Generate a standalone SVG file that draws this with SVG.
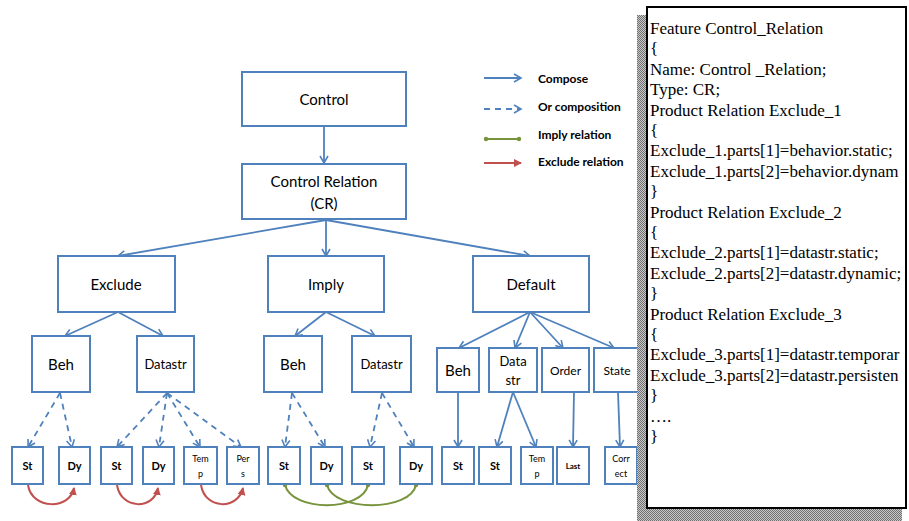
<svg xmlns="http://www.w3.org/2000/svg" width="909" height="521" viewBox="0 0 909 521">
<style>
.box{fill:#fff;stroke:#4f81bd;stroke-width:2}
.t{font-family:Lato,"Liberation Sans",sans-serif;fill:#000;text-anchor:middle}
.c{fill:none;stroke:#4f81bd;stroke-width:1.8;marker-end:url(#ab)}
.d{fill:none;stroke:#4f81bd;stroke-width:1.8;stroke-dasharray:6,5;marker-end:url(#ab)}
.r{fill:none;stroke:#c0504d;stroke-width:2;marker-end:url(#ar)}
.g{fill:none;stroke:#77933c;stroke-width:2;marker-start:url(#gd);marker-end:url(#gd)}
.lg{font-family:Lato,"Liberation Sans",sans-serif;font-size:12px;font-weight:bold;fill:#000}
.p{font-family:"Liberation Serif","Times New Roman",serif;font-size:17px;fill:#000}
</style>
<defs>
<marker id="ab" markerWidth="10" markerHeight="10" refX="8" refY="5" orient="auto" markerUnits="userSpaceOnUse"><path d="M1,1 L8,5 L1,9" fill="none" stroke="#4f81bd" stroke-width="1.6"/></marker>
<marker id="ar" markerWidth="10" markerHeight="10" refX="7" refY="5" orient="auto" markerUnits="userSpaceOnUse"><path d="M0,1 L8,5 L0,9 z" fill="#c0504d"/></marker>
<marker id="gd" markerWidth="6" markerHeight="6" refX="3" refY="3" markerUnits="userSpaceOnUse"><circle cx="3" cy="3" r="2.2" fill="#77933c"/></marker>
<pattern id="sh" width="2" height="2" patternUnits="userSpaceOnUse"><rect width="2" height="2" fill="#c8c8c8"/><rect width="1" height="1" fill="#707070"/><rect x="1" y="1" width="1" height="1" fill="#707070"/></pattern>
</defs>

<g id="connectors">
<path class="c" d="M324,126 L324,163"/>
<path class="c" d="M326,220 L118,256"/>
<path class="c" d="M326,220 L326,256"/>
<path class="c" d="M326,220 L530,256"/>
<path class="c" d="M118,312 L65,336"/>
<path class="c" d="M118,312 L163,336"/>
<path class="c" d="M326,312 L295,336"/>
<path class="c" d="M326,312 L375,336"/>
<path class="c" d="M530,312 L459,348"/>
<path class="c" d="M530,312 L515,348"/>
<path class="c" d="M530,312 L563,348"/>
<path class="c" d="M530,312 L614,348"/>
<path class="c" d="M458,392 L458,447"/>
<path class="c" d="M513,392 L497,447"/>
<path class="c" d="M513,392 L536,447"/>
<path class="c" d="M574,392 L573,447"/>
<path class="c" d="M618,392 L620,447"/>
<path class="d" d="M60,393 L28,447"/>
<path class="d" d="M60,393 L72,447"/>
<path class="d" d="M167,393 L117,447"/>
<path class="d" d="M167,393 L159,447"/>
<path class="d" d="M167,393 L200,447"/>
<path class="d" d="M167,393 L241,447"/>
<path class="d" d="M292,393 L285,447"/>
<path class="d" d="M292,393 L325,447"/>
<path class="d" d="M382,393 L370,447"/>
<path class="d" d="M382,393 L414,447"/>
<path class="r" d="M28,485 C32,510 70,510 74,488"/>
<path class="r" d="M117,485 C121,510 154,510 158,488"/>
<path class="r" d="M201,485 C205,510 238,510 243,488"/>
<path class="g" d="M285,485 C292,512 362,512 368,485"/>
<path class="g" d="M327,485 C334,512 410,512 416,485"/>
</g>

<g id="legend">
<path class="c" d="M484,78 L521,78"/>
<text class="lg" x="538" y="83">Compose</text>
<path class="d" d="M484,109 L521,109"/>
<text class="lg" x="538" y="111">Or composition</text>
<path class="g" d="M486,139 L519,139"/>
<text class="lg" x="538" y="139">Imply relation</text>
<path class="r" d="M484,163 L521,163"/>
<text class="lg" x="538" y="166">Exclude relation</text>
</g>

<g id="control"><rect class="box" x="242" y="72" width="164" height="54"/><text class="t" x="324" y="105" font-size="15">Control</text></g>
<g id="cr"><rect class="box" x="242" y="164" width="164" height="55"/><text class="t" x="324" y="187" font-size="15">Control Relation</text><text class="t" x="324" y="209" font-size="15">(CR)</text></g>
<g id="exclude"><rect class="box" x="58" y="256" width="117" height="56"/><text class="t" x="116" y="290" font-size="15">Exclude</text></g>
<g id="imply"><rect class="box" x="268" y="256" width="116" height="56"/><text class="t" x="326" y="290" font-size="15">Imply</text></g>
<g id="default"><rect class="box" x="473" y="256" width="116" height="56"/><text class="t" x="531" y="290" font-size="15">Default</text></g>

<g id="ex-beh"><rect class="box" x="32" y="336" width="58" height="56"/><text class="t" x="61" y="370" font-size="15">Beh</text></g>
<g id="ex-datastr"><rect class="box" x="137" y="336" width="57" height="56"/><text class="t" x="165.5" y="369" font-size="13">Datastr</text></g>
<g id="im-beh"><rect class="box" x="264" y="336" width="58" height="56"/><text class="t" x="293" y="370" font-size="15">Beh</text></g>
<g id="im-datastr"><rect class="box" x="352" y="336" width="59" height="56"/><text class="t" x="381.5" y="369" font-size="13">Datastr</text></g>
<g id="de-beh"><rect class="box" x="437" y="348" width="42" height="44"/><text class="t" x="458" y="376" font-size="15">Beh</text></g>
<g id="de-datastr"><rect class="box" x="489" y="348" width="48" height="44"/><text class="t" x="513" y="366" font-size="13">Data</text><text class="t" x="513" y="385" font-size="13">str</text></g>
<g id="de-order"><rect class="box" x="542" y="348" width="47" height="44"/><text class="t" x="565.5" y="375" font-size="12">Order</text></g>
<g id="de-state"><rect class="box" x="594" y="348" width="46" height="44"/><text class="t" x="617" y="375" font-size="12">State</text></g>

<g id="l-st1"><rect class="box" x="12" y="447" width="31" height="37"/><text class="t" x="27.5" y="470" font-size="11" font-weight="bold">St</text></g>
<g id="l-dy1"><rect class="box" x="59" y="447" width="31" height="37"/><text class="t" x="74.5" y="470" font-size="11" font-weight="bold">Dy</text></g>
<g id="l-st2"><rect class="box" x="101" y="447" width="31" height="37"/><text class="t" x="116.5" y="470" font-size="11" font-weight="bold">St</text></g>
<g id="l-dy2"><rect class="box" x="143" y="447" width="31" height="37"/><text class="t" x="158.5" y="470" font-size="11" font-weight="bold">Dy</text></g>
<g id="l-temp1"><rect class="box" x="184" y="447" width="33" height="37"/><text class="t" x="200.5" y="462" font-size="9">Tem</text><text class="t" x="200.5" y="477" font-size="9">p</text></g>
<g id="l-pers"><rect class="box" x="227" y="447" width="32" height="37"/><text class="t" x="243" y="462" font-size="9">Per</text><text class="t" x="243" y="477" font-size="9">s</text></g>
<g id="l-st3"><rect class="box" x="268" y="447" width="32" height="37"/><text class="t" x="284" y="470" font-size="11" font-weight="bold">St</text></g>
<g id="l-dy3"><rect class="box" x="311" y="447" width="31" height="37"/><text class="t" x="326.5" y="470" font-size="11" font-weight="bold">Dy</text></g>
<g id="l-st4"><rect class="box" x="352" y="447" width="32" height="37"/><text class="t" x="368" y="470" font-size="11" font-weight="bold">St</text></g>
<g id="l-dy4"><rect class="box" x="400" y="447" width="32" height="37"/><text class="t" x="416" y="470" font-size="11" font-weight="bold">Dy</text></g>
<g id="l-st5"><rect class="box" x="442" y="447" width="32" height="37"/><text class="t" x="458" y="470" font-size="11" font-weight="bold">St</text></g>
<g id="l-st6"><rect class="box" x="479" y="447" width="32" height="37"/><text class="t" x="495" y="470" font-size="11" font-weight="bold">St</text></g>
<g id="l-temp2"><rect class="box" x="521" y="447" width="32" height="37"/><text class="t" x="537" y="462" font-size="9">Tem</text><text class="t" x="537" y="477" font-size="9">p</text></g>
<g id="l-last"><rect class="box" x="557" y="447" width="32" height="37"/><text class="t" x="573" y="469" font-size="8" font-weight="bold">Last</text></g>
<g id="l-correct"><rect class="box" x="605" y="447" width="32" height="37"/><text class="t" x="621" y="462" font-size="9">Corr</text><text class="t" x="621" y="477" font-size="9">ect</text></g>

<g id="panel">
<rect x="637" y="15" width="265" height="506" fill="url(#sh)"/>
<rect x="647" y="7" width="259" height="501" fill="#fff" stroke="#000" stroke-width="2"/>
<text class="p" x="650" y="34">Feature Control_Relation</text>
<text class="p" x="650" y="54.4">{</text>
<text class="p" x="650" y="74.8">Name: Control _Relation;</text>
<text class="p" x="650" y="95.2">Type: CR;</text>
<text class="p" x="650" y="115.6">Product Relation Exclude_1</text>
<text class="p" x="650" y="136">{</text>
<text class="p" x="650" y="156.4">Exclude_1.parts[1]=behavior.static;</text>
<text class="p" x="650" y="176.8">Exclude_1.parts[2]=behavior.dynam</text>
<text class="p" x="650" y="197.2">}</text>
<text class="p" x="650" y="217.6">Product Relation Exclude_2</text>
<text class="p" x="650" y="238">{</text>
<text class="p" x="650" y="258.4">Exclude_2.parts[1]=datastr.static;</text>
<text class="p" x="650" y="278.8">Exclude_2.parts[2]=datastr.dynamic;</text>
<text class="p" x="650" y="299.2">}</text>
<text class="p" x="650" y="319.6">Product Relation Exclude_3</text>
<text class="p" x="650" y="340">{</text>
<text class="p" x="650" y="360.4">Exclude_3.parts[1]=datastr.temporar</text>
<text class="p" x="650" y="380.8">Exclude_3.parts[2]=datastr.persisten</text>
<text class="p" x="650" y="401.2">}</text>
<text class="p" x="650" y="421.6">….</text>
<text class="p" x="650" y="442">}</text>
</g>
</svg>
